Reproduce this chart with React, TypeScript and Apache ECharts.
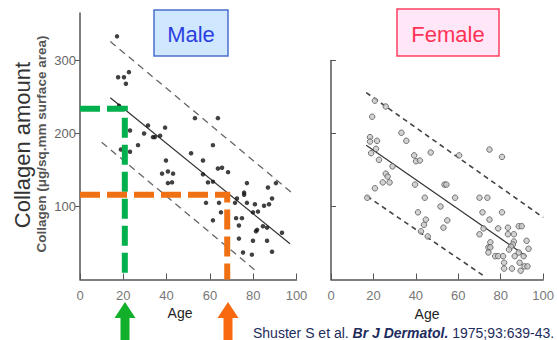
import React, { useEffect, useRef } from "react";
import * as echarts from "echarts";

const xTicks = [0, 20, 40, 60, 80, 100];
const maleYTicks = [100, 200, 300];
const femaleYTicks = [100, 200, 300];

const maleAgeCollagen: [number, number][] = [
  [17.1, 333], [17.6, 277], [20.3, 277], [22.6, 284], [21.2, 268], [18.0, 238],
  [23.1, 204], [18.9, 178], [23.1, 175], [26.8, 184], [29.6, 200], [31.4, 211],
  [33.7, 195], [34.6, 195], [37.0, 197], [39.3, 208], [39.7, 163], [37.9, 145],
  [40.6, 148], [43.0, 145], [40.6, 132], [42.5, 133], [51.3, 173], [53.1, 221],
  [56.8, 163], [61.4, 184], [63.7, 221], [63.7, 152], [65.6, 153], [68.4, 147],
  [56.8, 144], [59.1, 133], [61.4, 134], [77.1, 132], [75.8, 119], [75.8, 116],
  [86.8, 126], [90.5, 132], [88.7, 111], [72.5, 111], [71.6, 105], [77.1, 105],
  [80.8, 103], [85.0, 101], [87.3, 103], [58.2, 105], [64.2, 105], [65.1, 92],
  [79.9, 92], [82.2, 93], [72.1, 84], [74.8, 84], [61.4, 81], [73.4, 74],
  [84.5, 73], [86.4, 71], [81.8, 68], [81.3, 66], [93.3, 64], [73.4, 56],
  [79.9, 53], [86.4, 53], [88.7, 38], [75.3, 37], [79.4, 34],
];

const femaleAgeCollagen: [number, number][] = [
  [20.7, 245], [25.8, 237], [19.4, 223], [18.4, 195], [18.4, 189], [21.7, 190],
  [33.2, 201], [35.5, 190], [18.9, 173], [21.2, 179], [22.6, 164], [29.0, 155],
  [25.8, 145], [26.7, 141], [24.4, 133], [27.6, 133], [20.7, 125], [17.1, 112],
  [39.2, 170], [40.1, 162], [41.9, 163], [47.0, 174], [60.4, 170], [74.7, 178],
  [80.6, 168], [39.6, 130], [44.2, 112], [53.5, 130], [54.4, 130], [51.6, 100],
  [58.5, 112], [41.0, 92], [44.7, 82], [43.8, 75], [42.4, 66], [45.6, 59],
  [53.0, 71], [54.8, 81], [70.0, 112], [73.7, 112], [71.4, 92], [80.6, 92],
  [74.7, 82], [70.0, 62], [71.9, 70], [78.8, 70], [83.4, 71], [83.4, 62],
  [88.5, 73], [89.9, 73], [86.2, 62], [75.1, 51], [74.2, 44], [75.1, 44],
  [74.2, 37], [86.2, 52], [85.7, 48], [84.8, 45], [83.9, 41], [92.2, 53],
  [77.4, 32], [78.8, 32], [81.1, 32], [81.6, 23], [86.6, 32], [88.5, 37],
  [90.8, 32], [93.1, 42], [88.9, 23], [91.2, 18], [92.6, 18], [81.6, 15],
  [85.3, 15], [89.4, 12],
];

const maleFit: [number, number][] = [[14, 249], [97, 49]];
const maleUpper: [number, number][] = [[14, 326], [99, 116]];
const maleLower: [number, number][] = [[10, 188], [82, 10]];
const femaleFit: [number, number][] = [[16.6, 184], [92, 32]];
const femaleUpper: [number, number][] = [[16.6, 256], [100, 85]];
const femaleLower: [number, number][] = [[17, 114], [72, 5]];

const age20Guide: [number, number][] = [[0, 234], [20.7, 234], [20.7, 0]];
const age68Guide: [number, number][] = [[0, 116], [68, 116], [68, 0]];

const axisColor = "#555";
const FONT = "Liberation Sans, Arial, sans-serif";

function makeX(gridIndex: number) {
  return {
    type: "value",
    gridIndex,
    min: 0,
    max: 100,
    interval: 20,
    splitLine: { show: false },
    axisLine: { lineStyle: { color: axisColor, width: 1.5 } },
    axisTick: { inside: true, length: 6, lineStyle: { color: axisColor } },
    axisLabel: {
      color: "#777",
      fontSize: 13,
      margin: 9,
      fontFamily: FONT,
      customValues: xTicks,
    },
  };
}

export default function App() {
  const ref = useRef<HTMLDivElement>(null);
  useEffect(() => {
    if (!ref.current) return;
    const chart = echarts.init(ref.current, null, { renderer: "svg" });
    const arrow = (cx: number, color: string) => ({
      type: "polygon",
      shape: {
        points: [
          [cx, 302],
          [cx + 10.5, 318],
          [cx + 4.5, 318],
          [cx + 4.5, 340],
          [cx - 4.5, 340],
          [cx - 4.5, 318],
          [cx - 10.5, 318],
        ],
      },
      style: { fill: color },
    });
    chart.setOption({
      animation: false,
      backgroundColor: "#fff",
      grid: [
        { left: 80, top: 13, width: 216.5, height: 266.5 },
        { left: 331, top: 60.5, width: 217, height: 219 },
      ],
      xAxis: [makeX(0), makeX(1)],
      yAxis: [
        {
          type: "value",
          gridIndex: 0,
          min: 0,
          max: 365,
          interval: 100,
          splitLine: { show: false },
          axisLine: { lineStyle: { color: axisColor, width: 1.5 } },
          axisTick: { length: 5, lineStyle: { color: axisColor }, customValues: maleYTicks },
          axisLabel: {
            color: "#666",
            fontSize: 13,
            margin: 4,
            fontFamily: FONT,
            customValues: maleYTicks,
          },
        },
        {
          type: "value",
          gridIndex: 1,
          min: 0,
          max: 300,
          interval: 100,
          splitLine: { show: false },
          axisLine: { lineStyle: { color: axisColor, width: 1.5 } },
          axisTick: { inside: true, length: 5, lineStyle: { color: axisColor }, customValues: femaleYTicks },
          axisLabel: { show: false },
        },
      ],
      series: [
        {
          type: "scatter",
          xAxisIndex: 0,
          yAxisIndex: 0,
          data: maleAgeCollagen,
          symbolSize: 4.5,
          itemStyle: { color: "#111" },
          z: 3,
        },
        {
          type: "scatter",
          xAxisIndex: 1,
          yAxisIndex: 1,
          data: femaleAgeCollagen,
          symbolSize: 5.5,
          itemStyle: { color: "#c8c8c8", borderColor: "#555", borderWidth: 1 },
          z: 3,
        },
        ...[
          { d: maleFit, x: 0, t: "solid", c: "#333", w: 1.2 },
          { d: maleUpper, x: 0, t: [7, 5], c: "#666", w: 1.3 },
          { d: maleLower, x: 0, t: [7, 5], c: "#666", w: 1.3 },
          { d: femaleFit, x: 1, t: "solid", c: "#333", w: 1.2 },
          { d: femaleUpper, x: 1, t: [5, 4], c: "#444", w: 1.6 },
          { d: femaleLower, x: 1, t: [5, 4], c: "#444", w: 1.6 },
        ].map((s) => ({
          type: "line",
          xAxisIndex: s.x,
          yAxisIndex: s.x,
          data: s.d,
          symbol: "none",
          lineStyle: { color: s.c, width: s.w, type: s.t },
          z: 2,
        })),
        {
          type: "line",
          xAxisIndex: 0,
          yAxisIndex: 0,
          data: age20Guide,
          symbol: "none",
          clip: false,
          lineStyle: { color: "#00b04c", width: 6, type: [20, 7], cap: "butt", join: "miter" },
          z: 5,
        },
        {
          type: "line",
          xAxisIndex: 0,
          yAxisIndex: 0,
          data: age68Guide,
          symbol: "none",
          clip: false,
          lineStyle: { color: "#f07014", width: 6, type: [20, 7], cap: "butt", join: "miter" },
          z: 5,
        },
      ],
      graphic: [
        {
          type: "rect",
          shape: { x: 154, y: 10, width: 74, height: 46 },
          style: { fill: "#cfe7ff", stroke: "#4a6fcf", lineWidth: 1.5 },
        },
        {
          type: "text",
          x: 191,
          y: 34,
          style: {
            text: "Male",
            fill: "#2b3fe0",
            font: "22px " + FONT,
            textAlign: "center",
            textVerticalAlign: "middle",
          },
        },
        {
          type: "rect",
          shape: { x: 397, y: 9, width: 102, height: 47 },
          style: { fill: "#ffe7f8", stroke: "#ff4060", lineWidth: 1.5 },
        },
        {
          type: "text",
          x: 448,
          y: 34,
          style: {
            text: "Female",
            fill: "#ff3355",
            font: "22px " + FONT,
            textAlign: "center",
            textVerticalAlign: "middle",
          },
        },
        {
          type: "text",
          x: 22,
          y: 145,
          rotation: Math.PI / 2,
          style: {
            text: "Collagen amount",
            fill: "#333",
            font: "22px " + FONT,
            textAlign: "center",
            textVerticalAlign: "middle",
          },
        },
        {
          type: "text",
          x: 41,
          y: 144,
          rotation: Math.PI / 2,
          style: {
            text: "Collagen (μg/sq.mm surface area)",
            fill: "#555",
            font: "bold 13.5px " + FONT,
            textAlign: "center",
            textVerticalAlign: "middle",
          },
        },
        {
          type: "text",
          x: 180,
          y: 313,
          style: {
            text: "Age",
            fill: "#222",
            font: "14px " + FONT,
            textAlign: "center",
            textVerticalAlign: "middle",
          },
        },
        {
          type: "text",
          x: 427,
          y: 314,
          style: {
            text: "Age",
            fill: "#222",
            font: "14px " + FONT,
            textAlign: "center",
            textVerticalAlign: "middle",
          },
        },
        arrow(125, "#12b02a"),
        arrow(228, "#f96a10"),
        {
          type: "text",
          x: 253,
          y: 333,
          style: {
            text: "{n|Shuster S et al. }{b|Br J Dermatol.}{n| 1975;93:639-43.}",
            textVerticalAlign: "middle",
            rich: {
              n: { fill: "#1d2c5c", fontSize: 14, fontFamily: FONT },
              b: {
                fill: "#1d2c5c",
                fontSize: 14,
                fontWeight: "bold",
                fontStyle: "italic",
                fontFamily: FONT,
              },
            },
          },
        },
      ],
    });
    return () => chart.dispose();
  }, []);
  return (
    <div
      ref={ref}
      style={{ position: "fixed", left: 0, top: 0, width: 557, height: 340 }}
    />
  );
}
